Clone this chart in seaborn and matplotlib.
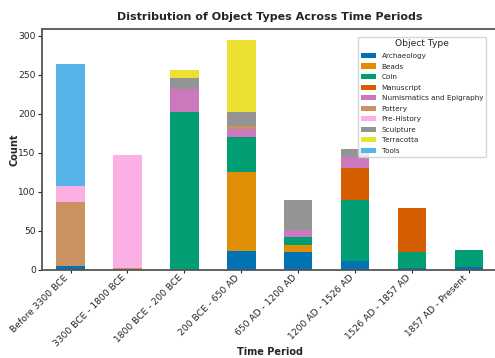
import matplotlib
matplotlib.use("Agg")
import matplotlib.pyplot as plt
from matplotlib.patches import Patch
import seaborn as sns
import pandas as pd

periods = ["Before 3300 BCE", "3300 BCE - 1800 BCE", "1800 BCE - 200 BCE",
           "200 BCE - 650 AD", "650 AD - 1200 AD", "1200 AD - 1526 AD",
           "1526 AD - 1857 AD", "1857 AD - Present"]
types = ["Archaeology", "Beads", "Coin", "Manuscript", "Numismatics and Epigraphy",
         "Pottery", "Pre-History", "Sculpture", "Terracotta", "Tools"]

archaeology = [5, 0, 0, 24, 23, 12, 2, 4]
beads = [0, 0, 0, 101, 9, 0, 0, 0]
coin = [0, 0, 202, 45, 10, 77, 21, 21]
manuscript = [0, 0, 0, 0, 0, 42, 56, 0]
numismatics = [0, 0, 30, 10, 9, 14, 0, 0]
pottery = [82, 2, 0, 4, 0, 0, 0, 0]
prehistory = [20, 145, 0, 0, 0, 0, 0, 0]
sculpture = [0, 0, 14, 18, 38, 10, 0, 0]
terracotta = [0, 0, 10, 92, 0, 0, 0, 0]
tools = [157, 0, 0, 0, 0, 0, 0, 0]

series = [archaeology, beads, coin, manuscript, numismatics,
          pottery, prehistory, sculpture, terracotta, tools]

rows = []
for t, vals in zip(types, series):
    for p, v in zip(periods, vals):
        rows.append({"Time Period": p, "Object Type": t, "Count": v})
df = pd.DataFrame(rows)
df["Time Period"] = pd.Categorical(df["Time Period"], categories=periods, ordered=True)

sns.set_style("white")
plt.rcParams["font.family"] = ["DejaVu Sans"]

fig = plt.figure(figsize=(4.95, 3.58), dpi=100)
ax = fig.add_axes([0.085, 0.246, 0.92, 0.672])

palette = dict(zip(types, sns.color_palette("colorblind", 10)))
# seaborn stacks the first hue level on top, so reverse for drawing
sns.histplot(data=df, x="Time Period", weights="Count", hue="Object Type",
             hue_order=types[::-1], multiple="stack", shrink=0.5, discrete=True,
             palette=palette, alpha=1, linewidth=0, ax=ax, legend=False)

ax.set_xlim(-0.5, 7.5)
ax.set_ylim(0, 308)
ax.set_yticks([0, 50, 100, 150, 200, 250, 300])
ax.set_xticks(range(len(periods)))
ax.set_xticklabels(periods, rotation=45, ha="right", fontsize=6.6)
ax.tick_params(axis="y", labelsize=6.6, length=3, width=0.8, left=True, pad=1.5)
ax.tick_params(axis="x", length=2.5, width=0.8, bottom=True, pad=0)
for s in ax.spines.values():
    s.set_color("#555555")
    s.set_linewidth(1.3)

ax.set_xlabel("Time Period", fontsize=7, fontweight="bold")
ax.xaxis.set_label_coords(0.5, -0.322)
ax.set_ylabel("Count", fontsize=7, fontweight="bold")
ax.yaxis.set_label_coords(-0.05, 0.5)
ax.set_title("Distribution of Object Types Across Time Periods", fontsize=8,
             fontweight="bold", pad=7)

handles = [Patch(facecolor=palette[t], edgecolor="none") for t in types]
ax.legend(handles, types, loc="upper right", bbox_to_anchor=(0.983, 0.985), fontsize=5.2,
          title="Object Type", title_fontsize=6.6, frameon=True,
          handlelength=2.1, handleheight=0.7, labelspacing=0.62)

fig.savefig("out.png", dpi=100)
